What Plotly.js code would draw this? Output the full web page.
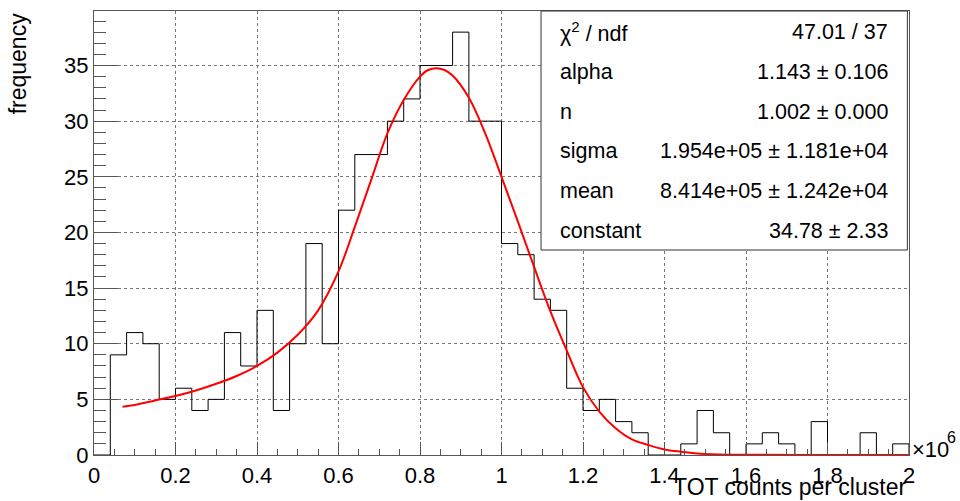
<!DOCTYPE html>
<html>
<head>
<meta charset="utf-8">
<script src="https://cdn.plot.ly/plotly-3.0.1.min.js"></script>
<style>html,body{margin:0;padding:0;background:#fff;}#chart{width:960px;height:501px;}</style>
</head>
<body>
<div id="chart"></div>
<script>
// ---- data ----
const binLow = 0;
const binWidth = 40000;
const counts = [0, 9, 11, 10, 5, 6, 4, 5, 11, 8,
                13, 4, 10, 19, 10, 22, 27, 27, 30, 32,
                35, 35, 38, 30, 30, 19, 18, 14, 13, 6,
                4, 5, 3, 2, 0, 0, 1, 4, 2, 0,
                1, 2, 1, 0, 3, 0, 0, 2, 0, 1];
const fitX = [0.07e6, 0.10e6, 0.15e6, 0.20e6, 0.25e6, 0.30e6, 0.35e6, 0.40e6, 0.45e6, 0.50e6,
              0.55e6, 0.60e6, 0.64e6, 0.68e6, 0.72e6, 0.76e6, 0.80e6, 0.82e6, 0.84e6, 0.86e6, 0.88e6, 0.92e6,
              0.96e6, 1.00e6, 1.04e6, 1.08e6, 1.12e6, 1.16e6, 1.20e6, 1.24e6, 1.28e6, 1.32e6,
              1.36e6, 1.40e6, 1.44e6, 1.50e6, 1.60e6, 1.80e6, 2.00e6];
const fitY = [4.34, 4.5, 4.9, 5.3, 5.8, 6.4, 7.1, 8.0, 9.2, 10.8,
              13.0, 16.5, 20.5, 24.7, 28.9, 31.9, 34.0, 34.6, 34.75, 34.6, 34.1, 32.1,
              28.9, 25.0, 21.0, 16.9, 12.9, 9.4, 6.1, 3.9, 2.4, 1.4,
              0.9, 0.5, 0.3, 0.1, 0.02, 0, 0];
const xTickVals = [0, 0.2e6, 0.4e6, 0.6e6, 0.8e6, 1.0e6, 1.2e6, 1.4e6, 1.6e6, 1.8e6, 2.0e6];
const xTickText = ["0", "0.2", "0.4", "0.6", "0.8", "1", "1.2", "1.4", "1.6", "1.8", "2"];
const statNames = ["\u03C7<sup>2</sup> / ndf", "alpha", "n", "sigma", "mean", "constant"];
const statValues = ["47.01 / 37", "1.143 \u00B1 0.106", "1.002 \u00B1 0.000",
                    "1.954e+05 \u00B1 1.181e+04", "8.414e+05 \u00B1 1.242e+04", "34.78 \u00B1 2.33"];
const xTitle = "TOT counts per cluster";
const yTitle = "frequency";
const xExpBase = "\u00D710";
const xExpPower = "6";

// ---- build histogram outline ----
const histX = [], histY = [];
for (let i = 0; i < counts.length; i++) {
  histX.push(binLow + i * binWidth);
  histY.push(counts[i]);
}
histX.push(binLow + counts.length * binWidth);
histY.push(counts[counts.length - 1]);
histX.push(binLow + counts.length * binWidth);
histY.push(0);

const FONT = "Liberation Sans, Arial, Helvetica, sans-serif";
const FS = 22;
const SFS = 21.5;

const traces = [
  {x: histX, y: histY, type: "scatter", mode: "lines",
   line: {shape: "hv", color: "#000", width: 1}, hoverinfo: "skip", showlegend: false},
  {x: fitX, y: fitY, type: "scatter", mode: "lines",
   line: {shape: "spline", smoothing: 1, color: "#ff0000", width: 2}, hoverinfo: "skip", showlegend: false}
];

const annotations = [];
const rowY = [0.9538, 0.8637, 0.7736, 0.6836, 0.5935, 0.5034];
for (let i = 0; i < statNames.length; i++) {
  annotations.push({xref: "paper", yref: "paper", x: 0.5693, y: rowY[i], xanchor: "left", yanchor: "middle",
    text: statNames[i], showarrow: false, font: {family: FONT, size: SFS, color: "#000"}});
  annotations.push({xref: "paper", yref: "paper", x: 0.9767, y: rowY[i], xanchor: "right", yanchor: "middle",
    text: statValues[i], showarrow: false, font: {family: FONT, size: SFS, color: "#000"}});
}
annotations.push({xref: "paper", yref: "paper", x: 0.9985, y: -0.1055, xanchor: "right", yanchor: "bottom",
  text: xTitle, showarrow: false, font: {family: FONT, size: 23, color: "#000"}});
annotations.push({xref: "paper", yref: "paper", x: -0.0933, y: 0.882, xanchor: "center", yanchor: "middle",
  textangle: -90, text: yTitle, showarrow: false, font: {family: FONT, size: 23, color: "#000"}});
annotations.push({xref: "paper", yref: "paper", x: 1.0015, y: 0.012, xanchor: "left", yanchor: "middle",
  text: xExpBase, showarrow: false, font: {family: FONT, size: FS, color: "#000"}});
annotations.push({xref: "paper", yref: "paper", x: 1.0442, y: 0.04, xanchor: "left", yanchor: "middle",
  text: xExpPower, showarrow: false, font: {family: FONT, size: 16, color: "#000"}});

const layout = {
  width: 960, height: 501,
  margin: {l: 94, r: 51, t: 11, b: 46, pad: 0},
  paper_bgcolor: "#fff", plot_bgcolor: "#fff",
  font: {family: FONT, size: FS, color: "#000"},
  showlegend: false,
  xaxis: {
    range: [0, 2e6], tickmode: "array", tickvals: xTickVals, ticktext: xTickText,
    ticks: "inside", ticklen: 13, tickcolor: "#555", tickwidth: 1, ticklabelstandoff: 1,
    showline: true, linecolor: "#555", linewidth: 1, mirror: true,
    showgrid: true, gridcolor: "#777", griddash: "dot", gridwidth: 1,
    zeroline: false, tickfont: {family: FONT, size: FS, color: "#000"},
    minor: {dtick: 5e4, tick0: 0, ticks: "inside", ticklen: 6, tickcolor: "#555", showgrid: false}
  },
  yaxis: {
    range: [0, 39.9], tickmode: "linear", tick0: 0, dtick: 5,
    ticks: "inside", ticklen: 24, tickcolor: "#555", tickwidth: 1,
    showline: true, linecolor: "#555", linewidth: 1, mirror: true,
    showgrid: true, gridcolor: "#777", griddash: "dot", gridwidth: 1,
    zeroline: false, tickfont: {family: FONT, size: FS, color: "#000"},
    minor: {dtick: 1, tick0: 0, ticks: "inside", ticklen: 12, tickcolor: "#555", showgrid: false}
  },
  shapes: [
    {type: "rect", xref: "paper", yref: "paper", x0: 0.5485, x1: 0.998, y0: 0.4617, y1: 1.0,
     fillcolor: "#fff", line: {color: "#333", width: 1}, layer: "above"}
  ],
  annotations: annotations
};

Plotly.newPlot("chart", traces, layout, {staticPlot: true, displayModeBar: false});
</script>
</body>
</html>
